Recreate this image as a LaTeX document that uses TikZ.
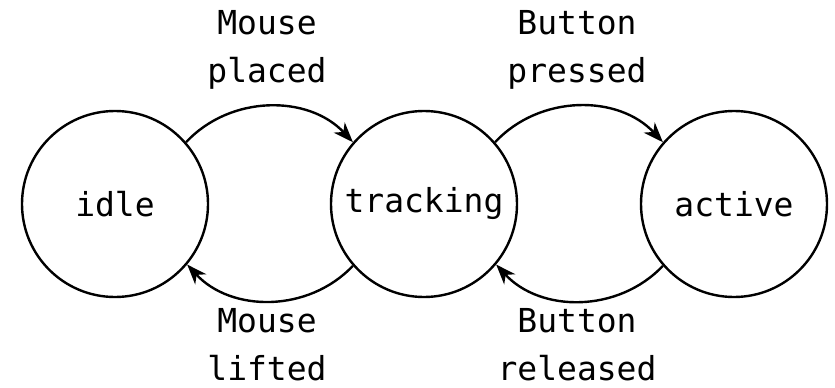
\documentclass[tikz,border=0pt]{standalone}
\usepackage{fontspec}
\newfontfamily\monof{DejaVu Sans Mono}
\usetikzlibrary{arrows.meta}
\begin{document}
\begin{tikzpicture}[x=1pt,y=-1pt,
  state/.style={draw, circle, line width=2.4pt, minimum size=186pt, inner sep=0pt, font=\monof\fontsize{33}{48}\selectfont},
  lbl/.style={inner sep=0pt, align=center, font=\monof\fontsize{33}{48}\selectfont},
  trans/.style={line width=2.4pt, -{Stealth[length=20pt,width=15pt,inset=6pt]}}]
\useasboundingbox (0,0) rectangle (835,388);
\node[state] (idle) at (115,204) {idle};
\node[state] (tracking) at (424,204) {tracking};
\node[state] (active) at (734,204) {active};
\draw[trans] (idle.41) to[bend left=47] (tracking.139);
\draw[trans] (tracking.41) to[bend left=47] (active.139);
\draw[trans] (tracking.-139) to[bend left=47] (idle.-40);
\draw[trans] (active.-139) to[bend left=47] (tracking.-40);
\node[lbl] (l1) at (267,50) {Mouse\\placed};
\node[lbl] (l2) at (577,50) {Button\\pressed};
\node[lbl] (l3) at (267,345) {Mouse\\lifted};
\node[lbl] (l4) at (577,345) {Button\\released};
\end{tikzpicture}
\end{document}
